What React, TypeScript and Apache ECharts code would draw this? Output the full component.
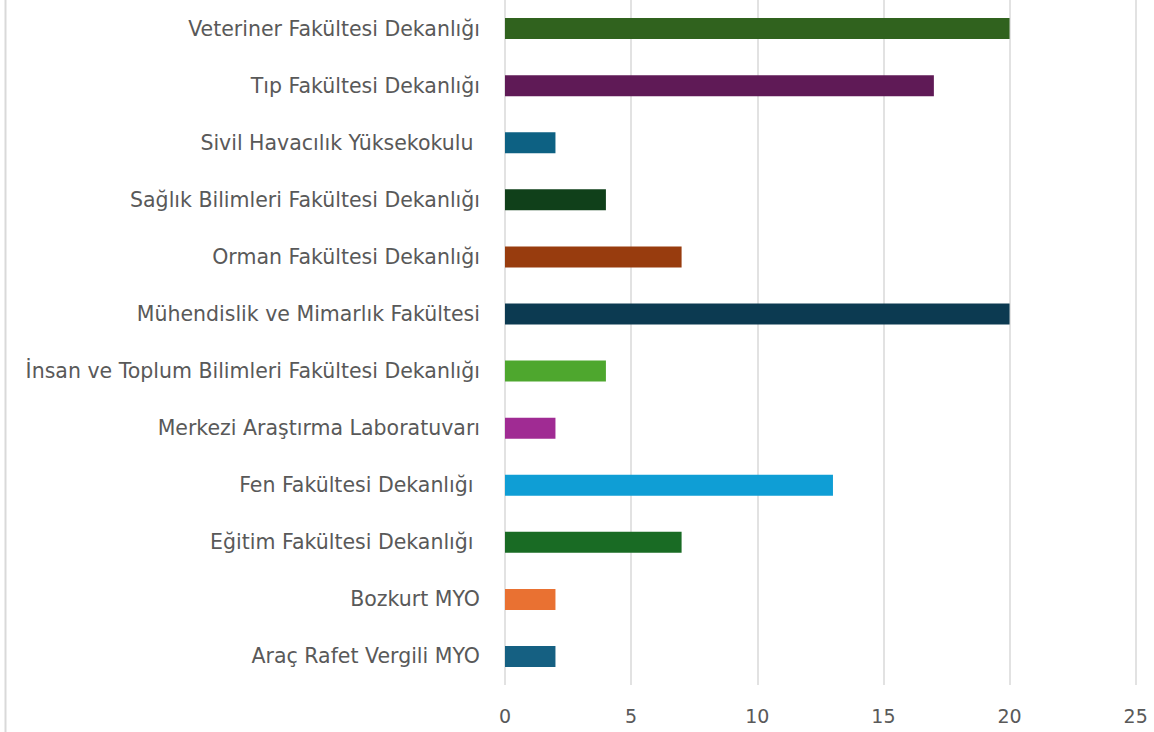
import React, { useEffect, useRef } from "react";
import * as echarts from "echarts";

const categories = [
  "Araç Rafet Vergili MYO",
  "Bozkurt MYO",
  "Eğitim Fakültesi Dekanlığı ",
  "Fen Fakültesi Dekanlığı ",
  "Merkezi Araştırma Laboratuvarı",
  "İnsan ve Toplum Bilimleri Fakültesi Dekanlığı",
  "Mühendislik ve Mimarlık Fakültesi",
  "Orman Fakültesi Dekanlığı",
  "Sağlık Bilimleri Fakültesi Dekanlığı",
  "Sivil Havacılık Yüksekokulu ",
  "Tıp Fakültesi Dekanlığı",
  "Veteriner Fakültesi Dekanlığı",
];

const values = [2, 2, 7, 13, 2, 4, 20, 7, 4, 2, 17, 20];

const colors = [
  "#156082",
  "#E97132",
  "#196B24",
  "#0F9ED5",
  "#A02B93",
  "#4EA72E",
  "#0C3A51",
  "#983C0E",
  "#10401A",
  "#0D6183",
  "#5F1A56",
  "#30621E",
];

const xTicks = { min: 0, max: 25, interval: 5 };

export default function App() {
  const ref = useRef<HTMLDivElement>(null);
  useEffect(() => {
    if (!ref.current) return;
    const chart = echarts.init(ref.current, null, { renderer: "svg" });
    const font = "'DejaVu Sans', sans-serif";
    chart.setOption({
      animation: false,
      backgroundColor: "#ffffff",
      grid: { left: 505, right: 18.3, top: -1.3, bottom: 47, containLabel: false },
      xAxis: {
        type: "value",
        min: xTicks.min,
        max: xTicks.max,
        interval: xTicks.interval,
        axisLine: { show: false },
        axisTick: { show: false },
        splitLine: { show: true, lineStyle: { color: "#d9d9d9", width: 1.5 } },
        axisLabel: { color: "#595959", fontSize: 19, fontFamily: font, margin: 21 },
      },
      yAxis: {
        type: "category",
        data: categories,
        axisLine: { show: false },
        axisTick: { show: false },
        splitLine: { show: false },
        axisLabel: { color: "#595959", fontSize: 20.5, fontFamily: font, margin: 25 },
      },
      series: [
        {
          type: "bar",
          barWidth: 21,
          data: values.map((v, i) => ({ value: v, itemStyle: { color: colors[i] } })),
        },
      ],
      graphic: [
        {
          type: "line",
          shape: { x1: 5.5, y1: 0, x2: 5.5, y2: 732 },
          style: { stroke: "#d9d9d9", lineWidth: 2 },
        },
      ],
    });
    return () => chart.dispose();
  }, []);
  return (
    <div
      ref={ref}
      style={{ position: "fixed", left: 0, top: 0, width: 1154, height: 732 }}
    />
  );
}
